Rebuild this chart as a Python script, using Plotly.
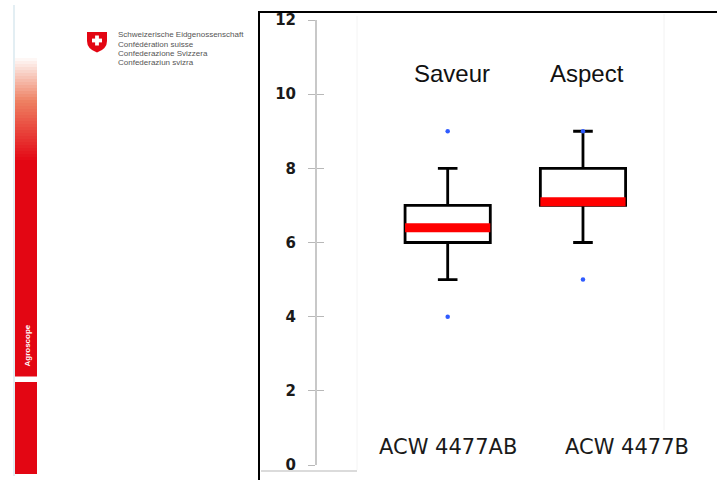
import plotly.graph_objects as go

W, H = 717, 480

# ---------------- data ----------------
categories = ["ACW 4477AB", "ACW 4477B"]
panel_titles = ["Saveur", "Aspect"]
lower_fence = [5, 6]
q1 = [6, 7]
median = [6.4, 7.1]
q3 = [7, 8]
upper_fence = [8, 9]
outliers = [[4, 9], [5, 9]]
y_ticks = [0, 2, 4, 6, 8, 10, 12]

logo_lines = ["Schweizerische Eidgenossenschaft", "Confédération suisse",
              "Confederazione Svizzera", "Confederaziun svizra"]
side_label = "Agroscope"

BOX_W = 0.63
LABEL_SHIFT = [0, 44]   # pixel offset of category labels (as in the slide)


def px(x):
    return x / W


def py(y):
    return 1 - y / H


fig = go.Figure()

pos = list(range(len(categories)))
for i, cat in enumerate(categories):
    fig.add_trace(go.Box(
        x=[pos[i]], q1=[q1[i]], median=[median[i]], q3=[q3[i]],
        lowerfence=[lower_fence[i]], upperfence=[upper_fence[i]],
        width=BOX_W, whiskerwidth=0.23, boxpoints=False,
        fillcolor="white", line=dict(color="black", width=2.8),
        name=cat, showlegend=False, hoverinfo="skip"))
    fig.add_trace(go.Scatter(
        x=[pos[i] - BOX_W / 2, pos[i] + BOX_W / 2], y=[median[i], median[i]],
        mode="lines", line=dict(color="#ff0000", width=9),
        showlegend=False, hoverinfo="skip"))
    fig.add_trace(go.Scatter(
        x=[pos[i]] * len(outliers[i]), y=outliers[i], mode="markers",
        marker=dict(color="#2f5bff", size=4.5), showlegend=False,
        hoverinfo="skip"))

# invisible trace to activate yaxis2 (inner tick marks)
fig.add_trace(go.Scatter(x=[pos[0]], y=[y_ticks[0]], yaxis="y2", mode="markers",
                         marker=dict(opacity=0), showlegend=False,
                         hoverinfo="skip"))

shapes = []
# slide decorations
shapes.append(dict(type="line", xref="paper", yref="paper", x0=px(14), x1=px(14),
                   y0=py(5), y1=py(476), line=dict(color="#e3eef3", width=2)))
# gradient top of red bar
stops = [(55, (255, 255, 255)), (100, (238, 128, 98)), (160, (227, 6, 19))]
step = 3
y = 55
while y < 160:
    for (ya, ca), (yb, cb) in zip(stops[:-1], stops[1:]):
        if ya <= y < yb:
            t = (y - ya) / (yb - ya)
            c = tuple(int(round(ca[k] + (cb[k] - ca[k]) * t)) for k in range(3))
    shapes.append(dict(type="rect", xref="paper", yref="paper", x0=px(15), x1=px(37),
                       y0=py(y + step + 0.5), y1=py(y), line=dict(width=0),
                       fillcolor="rgb(%d,%d,%d)" % c, layer="below"))
    y += step
shapes.append(dict(type="rect", xref="paper", yref="paper", x0=px(15), x1=px(37),
                   y0=py(376.5), y1=py(160), line=dict(width=0), fillcolor="#e30613",
                   layer="below"))
shapes.append(dict(type="rect", xref="paper", yref="paper", x0=px(15), x1=px(37),
                   y0=py(474), y1=py(382), line=dict(width=0), fillcolor="#e30613",
                   layer="below"))
# swiss shield
def P(x, y):
    return "%.5f,%.5f" % (px(x), py(y))

shield = ("M " + P(87, 32) + " L " + P(107, 32) + " L " + P(107, 41) +
          " Q " + P(107, 49) + " " + P(97, 52.5) + " Q " + P(87, 49) + " " +
          P(87, 41) + " Z")
shapes.append(dict(type="path", xref="paper", yref="paper", path=shield,
                   fillcolor="#e30613", line=dict(width=0)))
shapes.append(dict(type="rect", xref="paper", yref="paper", x0=px(95.1), x1=px(98.9),
                   y0=py(45.5), y1=py(35.5), fillcolor="white", line=dict(width=0)))
shapes.append(dict(type="rect", xref="paper", yref="paper", x0=px(92), x1=px(102),
                   y0=py(42.4), y1=py(38.6), fillcolor="white", line=dict(width=0)))
# black frame of chart picture
shapes.append(dict(type="line", xref="paper", yref="paper", x0=px(258), x1=px(717),
                   y0=py(12), y1=py(12), line=dict(color="black", width=2)))
shapes.append(dict(type="line", xref="paper", yref="paper", x0=px(259), x1=px(259),
                   y0=py(12), y1=py(480), line=dict(color="black", width=2)))
# faint picture seams
shapes.append(dict(type="line", xref="paper", yref="paper", x0=px(261), x1=px(357),
                   y0=py(471), y1=py(471), line=dict(color="#cfcfcf", width=1.5)))
shapes.append(dict(type="line", xref="paper", yref="paper", x0=px(357), x1=px(357),
                   y0=py(16), y1=py(470), line=dict(color="#f4f4f4", width=1)))
shapes.append(dict(type="line", xref="paper", yref="paper", x0=px(664), x1=px(664),
                   y0=py(14), y1=py(430), line=dict(color="#f2f2f2", width=1)))

annotations = []
for i, t in enumerate(panel_titles):
    annotations.append(dict(text=t, x=pos[i] + 0.03, xref="x", y=py(73), yref="paper",
                            showarrow=False, xanchor="center", yanchor="middle",
                            font=dict(family="Liberation Sans", size=24, color="#111")))
for i, c in enumerate(categories):
    annotations.append(dict(text=c, x=pos[i], xref="x", y=py(447), yref="paper",
                            xshift=LABEL_SHIFT[i],
                            showarrow=False, xanchor="center", yanchor="middle",
                            font=dict(family="DejaVu Sans", size=21, color="#1a1a1a")))
for k, line in enumerate(logo_lines):
    annotations.append(dict(text=line, x=px(116), xref="paper", y=py(35 + k * 9.1),
                            yref="paper", showarrow=False, xanchor="left",
                            yanchor="middle",
                            font=dict(family="Liberation Sans", size=8, color="#555")))
annotations.append(dict(text="<b>" + side_label + "</b>", x=px(26.5), xref="paper",
                        y=py(346), yref="paper", showarrow=False, textangle=-90,
                        xanchor="center", yanchor="middle",
                        font=dict(family="Liberation Sans", size=8, color="white")))

yrange = [y_ticks[0], y_ticks[-1]]
fig.update_layout(
    template="none",
    width=W, height=H,
    margin=dict(l=0, r=0, t=0, b=0, pad=0, autoexpand=False),
    paper_bgcolor="white", plot_bgcolor="rgba(0,0,0,0)",
    showlegend=False,
    xaxis=dict(domain=[px(317), px(700)], range=[-0.966, 1.865], visible=False,
               fixedrange=True, automargin=False),
    yaxis=dict(domain=[py(465), py(20)], range=yrange, tickvals=y_ticks,
               automargin=False, fixedrange=True,
               showline=True, linecolor="#c8c8c8", linewidth=2,
               ticks="outside", ticklen=7, tickcolor="#b8b8b8", tickwidth=1,
               showgrid=False, zeroline=False, ticklabelstandoff=9,
               tickfont=dict(family="DejaVu Sans", size=15, color="#1a1a1a",
                             weight="bold")),
    yaxis2=dict(overlaying="y", anchor="x", side="left", range=yrange,
                automargin=False, fixedrange=True,
                tickvals=y_ticks, ticks="inside", ticklen=7, tickcolor="#b8b8b8",
                tickwidth=1, showticklabels=False, showline=False, showgrid=False,
                zeroline=False),
    shapes=shapes,
    annotations=annotations,
)

fig.write_html("out.html", config={"displayModeBar": False},
               post_script="document.body.style.margin='0';"
                           "document.body.style.overflow='hidden';")
